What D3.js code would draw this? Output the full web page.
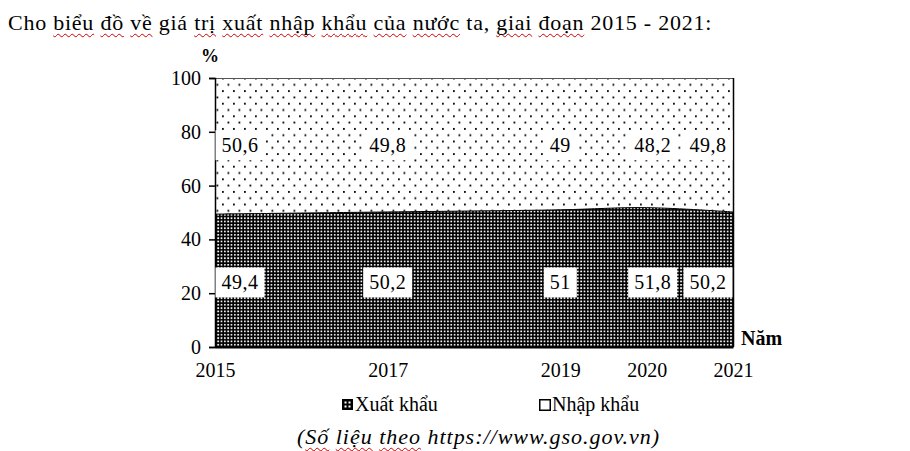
<!DOCTYPE html>
<html><head><meta charset="utf-8">
<script src="https://cdn.jsdelivr.net/npm/d3@7"></script>
<style>
html,body{margin:0;padding:0;background:#fff;width:910px;height:451px;overflow:hidden;font-family:"Liberation Serif","Times New Roman",serif;}
.txt{position:absolute;white-space:nowrap;color:#000;line-height:1;}
.sp{text-decoration:underline wavy #d00000;text-decoration-thickness:1px;text-underline-offset:3px;text-decoration-skip-ink:none;}
svg{position:absolute;left:0;top:0;}
</style></head>
<body>
<div id="title" class="txt" style="left:8px;top:12px;font-size:22px;"></div>
<div id="source" class="txt" style="left:297px;top:426px;font-size:22px;font-style:italic;"></div>
<svg id="chart" width="910" height="451"></svg>
<script>
const years = [2015, 2017, 2019, 2020, 2021];
const exportShare = [49.4, 50.2, 51, 51.8, 50.2];
const importShare = [50.6, 49.8, 49, 48.2, 49.8];
const yTicks = [0, 20, 40, 60, 80, 100];
const xTickLabels = ["2015", "2017", "2019", "2020", "2021"];
const seriesNames = ["Xuất khẩu", "Nhập khẩu"];
const titleWords = [["Cho",0],["biểu",1],["đồ",1],["về",1],["giá",0],["trị",1],["xuất",1],["nhập",1],["khẩu",1],["của",1],["nước",1],["ta,",0],["giai",1],["đoạn",1],["2015 - 2021:",0]];

const FONT = "Liberation Serif";
// title & source with spell-check underlines
const tdiv = d3.select("#title");
titleWords.forEach((w,i)=>{
  if(i>0) tdiv.append("span").text(" ");
  tdiv.append("span").attr("class", w[1]?"sp":null).text(w[0]);
});
const sdiv = d3.select("#source");
sdiv.append("span").text("(");
sdiv.append("span").attr("class","sp").text("Số");
sdiv.append("span").text(" ");
sdiv.append("span").attr("class","sp").text("liệu");
sdiv.append("span").text(" ");
sdiv.append("span").attr("class","sp").text("theo");
sdiv.append("span").text(" https://www.gso.gov.vn)");
function fitWidth(sel, target){
  const n = sel.node();
  const w = n.getBoundingClientRect().width;
  const chars = n.textContent.length;
  sel.style("letter-spacing", ((target - w)/chars) + "px");
}
fitWidth(tdiv, 704);
fitWidth(sdiv, 363);

const svg = d3.select("#chart");
const L = 215, R = 733, T = 78, B = 347;
const x = d3.scaleLinear().domain([2015, 2021]).range([L, R]);
const y = d3.scaleLinear().domain([0, 100]).range([B, T]);

const defs = svg.append("defs");
const pe = defs.append("pattern").attr("id","pExp").attr("patternUnits","userSpaceOnUse").attr("width",3.33).attr("height",3.33);
pe.append("rect").attr("width",3.33).attr("height",3.33).attr("fill","#000");
pe.append("rect").attr("x",0.9).attr("y",0.9).attr("width",1.7).attr("height",1.7).attr("fill","#fff");
const pi = defs.append("pattern").attr("id","pImp").attr("patternUnits","userSpaceOnUse").attr("width",11).attr("height",12.6);
pi.append("rect").attr("width",11).attr("height",12.6).attr("fill","#fff");
pi.append("rect").attr("x",2).attr("y",2).attr("width",1.8).attr("height",1.8).attr("fill","#000");
pi.append("rect").attr("x",7.5).attr("y",8.3).attr("width",1.8).attr("height",1.8).attr("fill","#000");

const data = years.map((yr,i)=>({yr, e: exportShare[i], m: importShare[i]}));
const curve = d3.curveCatmullRom.alpha(0.5);

// import area (top): from boundary to 100
svg.append("path")
  .attr("d", d3.area().x(d=>x(d.yr)).y0(y(100)).y1(d=>y(d.e)).curve(curve)(data))
  .attr("fill","url(#pImp)");
// export area (bottom)
svg.append("path")
  .attr("d", d3.area().x(d=>x(d.yr)).y0(y(0)).y1(d=>y(d.e)).curve(curve)(data))
  .attr("fill","url(#pExp)");
svg.append("path")
  .attr("d", d3.line().x(d=>x(d.yr)).y(d=>y(d.e)).curve(curve)(data))
  .attr("fill","none").attr("stroke","#000").attr("stroke-width",1);

// frame top and right
svg.append("line").attr("x1",L).attr("x2",R).attr("y1",T+0.5).attr("y2",T+0.5).attr("stroke","#555").attr("stroke-width",1);
svg.append("line").attr("x1",R+0.5).attr("x2",R+0.5).attr("y1",T).attr("y2",B).attr("stroke","#000").attr("stroke-width",1.5);

// axes
const yAxis = svg.append("g").attr("transform",`translate(${L},0)`)
  .call(d3.axisLeft(y).tickValues(yTicks).tickSize(6).tickPadding(8));
yAxis.select(".domain").attr("stroke","#000").attr("stroke-width",1.5);
yAxis.selectAll(".tick line").attr("stroke","#000").attr("stroke-width",1.5);
yAxis.selectAll("text").attr("font-family",FONT).attr("font-size",20).attr("fill","#000");

const xAxis = svg.append("g").attr("transform",`translate(0,${B})`)
  .call(d3.axisBottom(x).tickValues(years).tickFormat((d,i)=>xTickLabels[i]).tickSize(0).tickPadding(16));
xAxis.select(".domain").attr("stroke","#000").attr("stroke-width",2);
xAxis.selectAll("text").attr("font-family",FONT).attr("font-size",20).attr("fill","#000");

svg.append("text").attr("x",210).attr("y",62).attr("font-family",FONT).attr("font-weight","bold").attr("font-size",18).attr("text-anchor","middle").text("%");
svg.append("text").attr("x",741).attr("y",345).attr("font-family",FONT).attr("font-weight","bold").attr("font-size",20).text("Năm");

// value labels
const lx = yr => Math.min(Math.max(x(yr), L+25), R-25);
function label(cx, cy, txt){
  const g = svg.append("g");
  const t = g.append("text").attr("x",cx).attr("y",cy).attr("dy","0.35em").attr("text-anchor","middle")
    .attr("font-family",FONT).attr("font-size",20).attr("letter-spacing",0.5).attr("fill","#000").text(txt);
  const bb = t.node().getBBox();
  g.insert("rect","text").attr("x",bb.x-6).attr("y",cy-15).attr("width",bb.width+12).attr("height",30).attr("fill","#fff");
}
const fmt = v => String(v).replace(".", ",");
data.forEach(d=>{
  label(lx(d.yr)+(d.yr===2020?6:0), y(24), fmt(d.e));
  label(lx(d.yr)+(d.yr===2020?6:0), y(75), fmt(d.m));
});

// legend
svg.append("rect").attr("x",342).attr("y",399).attr("width",11).attr("height",11).attr("fill","#000");
[[344.5,401.5],[348.5,401.5],[344.5,405.5],[348.5,405.5]].forEach(p=>
  svg.append("rect").attr("x",p[0]).attr("y",p[1]).attr("width",2).attr("height",2).attr("fill","#fff"));
svg.append("text").attr("x",355).attr("y",411).attr("font-family",FONT).attr("font-size",20).text(seriesNames[0]);
svg.append("rect").attr("x",539.75).attr("y",399.75).attr("width",10.5).attr("height",10.5).attr("fill","#fff").attr("stroke","#000").attr("stroke-width",1.5);
svg.append("text").attr("x",552).attr("y",411).attr("font-family",FONT).attr("font-size",20).text(seriesNames[1]);
</script>
</body></html>
